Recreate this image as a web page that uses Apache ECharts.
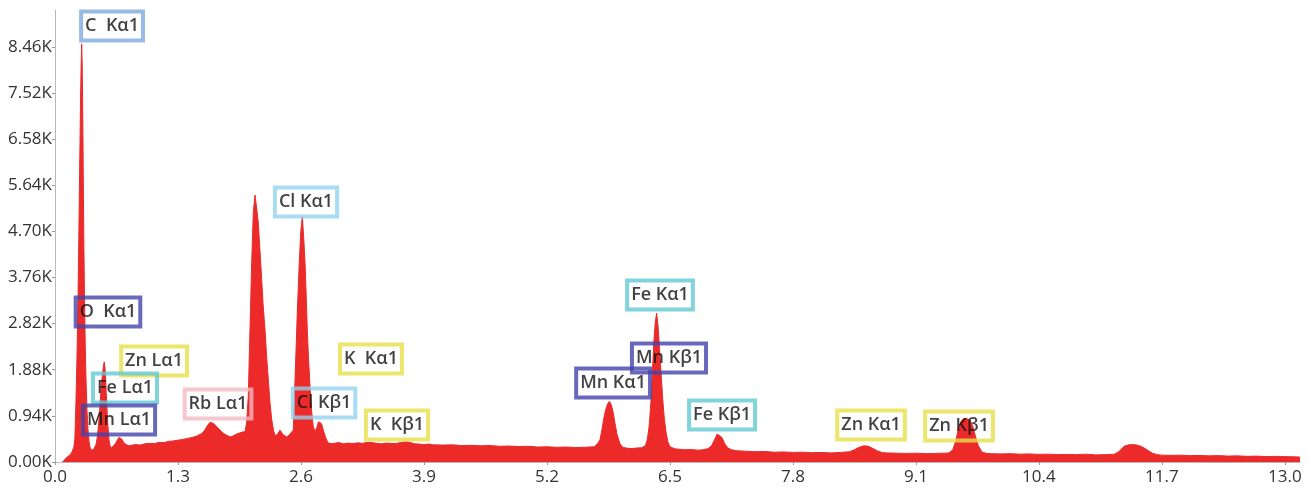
<!DOCTYPE html>
<html>
<head>
<meta charset="utf-8">
<script src="https://cdn.jsdelivr.net/npm/echarts@6/dist/echarts.min.js"></script>
<style>
  html, body { margin: 0; padding: 0; background: #fff; }
  #main { width: 1309px; height: 492px; }
</style>
</head>
<body>
<div id="main"></div>
<script>
// spectrum, energy in keV and counts
var energy = [0.08, 0.10, 0.12, 0.14, 0.16, 0.18, 0.20, 0.21, 0.222, 0.232, 0.243, 0.252, 0.259, 0.265, 0.270, 0.276, 0.282, 0.287, 0.291, 0.296,
  0.301, 0.306, 0.312, 0.320, 0.328, 0.338, 0.349, 0.360, 0.370, 0.380, 0.391, 0.400, 0.410, 0.420, 0.433, 0.445, 0.455, 0.465, 0.476, 0.486,
  0.497, 0.507, 0.514, 0.521, 0.527, 0.534, 0.542, 0.550, 0.560, 0.571, 0.582, 0.592, 0.605, 0.620, 0.640, 0.660, 0.675, 0.690, 0.705, 0.720,
  0.740, 0.760, 0.780, 0.80, 0.85, 0.90, 0.95, 1.00, 1.05, 1.10, 1.15, 1.20, 1.25, 1.30, 1.35, 1.40, 1.45, 1.50, 1.55, 1.58,
  1.61, 1.64, 1.66, 1.68, 1.71, 1.74, 1.77, 1.80, 1.83, 1.86, 1.89, 1.92, 1.95, 1.98, 2.01, 2.025, 2.043, 2.061, 2.079, 2.096,
  2.114, 2.13, 2.149, 2.167, 2.185, 2.20, 2.220, 2.237, 2.255, 2.273, 2.291, 2.31, 2.326, 2.35, 2.378, 2.41, 2.449, 2.48, 2.519, 2.537,
  2.55, 2.561, 2.582, 2.598, 2.614, 2.628, 2.643, 2.655, 2.667, 2.68, 2.696, 2.712, 2.730, 2.75, 2.766, 2.785, 2.801, 2.818, 2.836, 2.86,
  2.886, 2.92, 2.95, 3.00, 3.05, 3.10, 3.15, 3.20, 3.25, 3.30, 3.35, 3.40, 3.45, 3.50, 3.55, 3.60, 3.65, 3.70, 3.75, 3.80,
  3.85, 3.90, 3.95, 4.00, 4.10, 4.20, 4.30, 4.40, 4.50, 4.60, 4.70, 4.80, 4.90, 5.00, 5.10, 5.20, 5.30, 5.40, 5.50, 5.60,
  5.70, 5.73, 5.76, 5.78, 5.80, 5.82, 5.84, 5.86, 5.88, 5.90, 5.92, 5.94, 5.97, 6.00, 6.05, 6.10, 6.15, 6.20, 6.24, 6.26,
  6.28, 6.30, 6.31, 6.33, 6.345, 6.36, 6.375, 6.39, 6.41, 6.425, 6.44, 6.46, 6.48, 6.50, 6.55, 6.60, 6.65, 6.70, 6.75, 6.80,
  6.85, 6.90, 6.94, 6.97, 7.00, 7.02, 7.05, 7.08, 7.11, 7.15, 7.20, 7.30, 7.40, 7.50, 7.60, 7.70, 7.80, 7.90, 8.00, 8.10,
  8.20, 8.30, 8.40, 8.45, 8.50, 8.55, 8.60, 8.65, 8.70, 8.75, 8.80, 8.90, 9.00, 9.10, 9.20, 9.30, 9.40, 9.45, 9.49, 9.52,
  9.55, 9.58, 9.61, 9.64, 9.67, 9.70, 9.73, 9.76, 9.80, 9.85, 9.90, 10.0, 10.1, 10.2, 10.3, 10.4, 10.5, 10.6, 10.7, 10.8,
  10.9, 11.0, 11.1, 11.2, 11.25, 11.30, 11.35, 11.40, 11.45, 11.50, 11.55, 11.60, 11.65, 11.7, 11.8, 11.9, 12.0, 12.1, 12.2, 12.3,
  12.4, 12.5, 12.6, 12.7, 12.8, 12.9, 13.0, 13.1, 13.16];
var counts = [0, 40, 85, 110, 150, 205, 310, 480, 1260, 2100, 3300, 4600, 5750, 6600, 7380, 8050, 8520, 8150, 7580, 6500,
  5340, 4300, 3300, 2350, 1670, 1050, 650, 420, 300, 240, 200, 230, 260, 290, 350, 480, 650, 860, 1150, 1470,
  1700, 1880, 1980, 2040, 1950, 1770, 1400, 1060, 720, 450, 330, 285, 300, 330, 380, 450, 500, 480, 470, 420,
  370, 340, 330, 340, 355, 345, 370, 380, 375, 400, 395, 420, 430, 445, 460, 480, 500, 530, 580, 640,
  740, 810, 830, 780, 720, 660, 600, 560, 530, 510, 540, 570, 590, 610, 620, 800, 1330, 2690, 4060, 5080,
  5440, 5200, 4870, 4300, 3710, 3200, 2690, 2150, 1670, 1200, 860, 640, 540, 560, 650, 560, 510, 560, 650, 1670,
  2400, 3040, 4060, 4700, 5000, 4600, 4060, 3400, 2690, 2100, 1530, 1050, 715, 620, 700, 820, 860, 780, 650, 500,
  390, 375, 380, 395, 370, 385, 375, 390, 380, 400, 395, 380, 370, 385, 380, 375, 395, 410, 400, 370,
  365, 355, 365, 350, 345, 350, 335, 340, 330, 335, 320, 325, 315, 320, 305, 310, 300, 305, 295, 300,
  310, 360, 450, 640, 880, 1060, 1180, 1235, 1170, 1010, 780, 570, 380, 300, 280, 275, 285, 290, 330, 450,
  720, 1250, 1650, 2450, 2850, 3030, 2750, 2300, 1700, 1250, 900, 590, 400, 310, 270, 260, 250, 255, 250, 240,
  250, 270, 330, 450, 570, 590, 500, 370, 290, 250, 230, 220, 210, 215, 200, 205, 195, 200, 190, 195,
  185, 195, 210, 250, 300, 330, 320, 270, 220, 190, 185, 180, 175, 180, 170, 175, 180, 185, 250, 420,
  680, 840, 890, 880, 850, 740, 520, 330, 200, 175, 170, 165, 170, 160, 165, 155, 160, 150, 155, 150,
  160, 145, 150, 160, 220, 320, 350, 355, 340, 300, 240, 180, 150, 140, 135, 140, 130, 135, 125, 130,
  120, 125, 115, 120, 110, 115, 110, 105, 100];

// tick labels
var xTicks = [0, 1.3, 2.6, 3.9, 5.2, 6.5, 7.8, 9.1, 10.4, 11.7, 13.0];
var yTicks = [0, 940, 1880, 2820, 3760, 4700, 5640, 6580, 7520, 8460];

// peak labels: name, position of the box centre (keV, counts), border colour
var peakNames = ['C  K\u03b11', 'O  K\u03b11', 'Zn L\u03b11', 'Fe L\u03b11', 'Mn L\u03b11', 'Rb L\u03b11', 'Cl K\u03b11', 'Cl K\u03b21',
  'K  K\u03b11', 'K  K\u03b21', 'Mn K\u03b11', 'Mn K\u03b21', 'Fe K\u03b11', 'Fe K\u03b21', 'Zn K\u03b11', 'Zn K\u03b21'];
var peakX = [0.603, 0.560, 1.047, 0.740, 0.677, 1.723, 2.653, 2.844, 3.340, 3.615, 5.899, 6.490, 6.395, 7.051, 8.626, 9.556];
var peakY = [8884, 3056, 2058, 1508, 856, 1182, 5298, 1202, 2099, 754, 1610, 2119, 3403, 958, 754, 734];
var peakColors = ['#7fa9dd', '#4444aa', '#e8e048', '#62c8d3', '#4444aa', '#f3b9c2', '#94d2ef', '#94d2ef',
  '#e8e048', '#e8e048', '#4444aa', '#4444aa', '#62c8d3', '#62c8d3', '#e8e048', '#e8e048'];

var spectrum = [];
for (var i = 0; i < energy.length; i++) {
  spectrum.push([energy[i], counts[i]]);
}

var labels = [];
for (var j = 0; j < peakNames.length; j++) {
  labels.push({
    name: peakNames[j],
    value: [peakX[j], peakY[j]],
    label: { borderColor: peakColors[j] }
  });
}

var myChart = echarts.init(document.getElementById('main'));

var option = {
  animation: false,
  backgroundColor: '#ffffff',
  grid: { left: 55, right: 9, top: 10, bottom: 30 },
  xAxis: {
    type: 'value',
    min: 0,
    max: 13.16,
    interval: 1.3,
    axisLine: { lineStyle: { color: '#b8b8b8', width: 1 } },
    axisTick: { show: true, length: 3, lineStyle: { color: '#999' }, customValues: xTicks },
    axisLabel: {
      customValues: xTicks,
      color: '#333',
      fontSize: 17,
      fontFamily: 'Open Sans',
      margin: 7,
      formatter: function (v) { return v.toFixed(1); }
    },
    splitLine: { show: false }
  },
  yAxis: {
    type: 'value',
    min: 0,
    max: 9210,
    interval: 940,
    axisLine: { show: true, lineStyle: { color: '#b8b8b8', width: 1 } },
    axisTick: { show: true, length: 3, lineStyle: { color: '#999' }, customValues: yTicks },
    axisLabel: {
      customValues: yTicks,
      color: '#333',
      fontSize: 17,
      fontFamily: 'Open Sans',
      margin: 3,
      formatter: function (v) { return (v / 1000).toFixed(2) + 'K'; }
    },
    splitLine: { show: false }
  },
  series: [
    {
      type: 'line',
      data: spectrum,
      showSymbol: false,
      sampling: false,
      lineStyle: { color: '#ec2a2a', width: 1 },
      areaStyle: { color: '#ec2a2a', opacity: 1 },
      z: 2
    },
    {
      type: 'scatter',
      data: labels,
      symbolSize: 1,
      itemStyle: { color: 'rgba(0,0,0,0)' },
      label: {
        show: true,
        position: 'inside',
        formatter: '{b}',
        color: '#111',
        fontSize: 18,
        fontWeight: 600,
        fontFamily: 'Open Sans',
        borderWidth: 2,
        padding: [6, 4, 5, 4],
        backgroundColor: 'transparent'
      },
      z: 5
    }
  ]
};

myChart.setOption(option);
</script>
</body>
</html>
